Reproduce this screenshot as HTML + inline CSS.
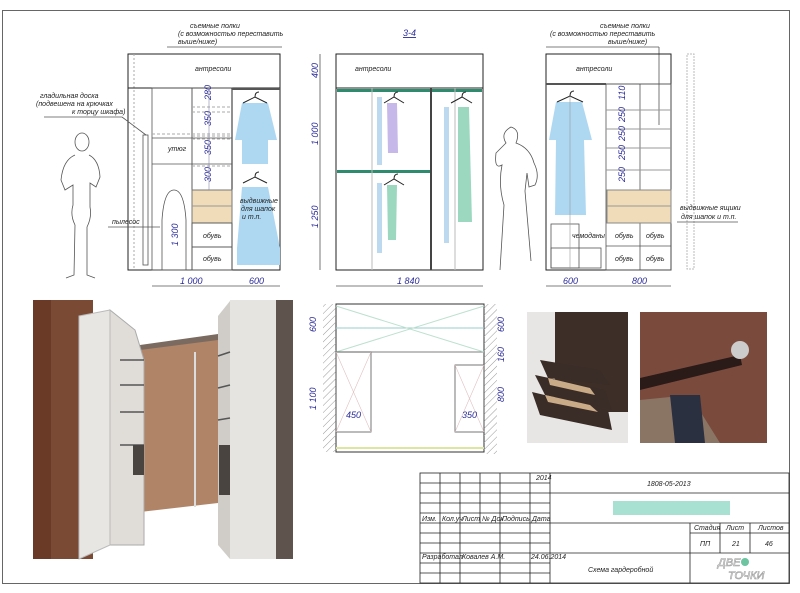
<!DOCTYPE html>
<html><head><meta charset="utf-8"><style>
body{margin:0;background:#fff}
svg{display:block;font-family:"Liberation Sans","DejaVu Sans",sans-serif;font-style:italic}
.t{font-size:7px;fill:#222}
.d{font-size:9px;fill:#2b2b9a}
.l{stroke:#555;stroke-width:.8;fill:none}
.k{stroke:#222;stroke-width:1;fill:none}
</style></head><body>
<svg width="800" height="593" viewBox="0 0 800 593">
<defs><pattern id="h" width="5" height="5" patternUnits="userSpaceOnUse" patternTransform="rotate(45)"><line x1="0" y1="0" x2="0" y2="5" stroke="#999"/></pattern></defs>
<rect x="2.5" y="10.5" width="787" height="573" fill="#fff" stroke="#666" stroke-width="1"/>

<!-- LEFT ELEVATION -->
<text x="190" y="28" class="t">съемные полки</text>
<text x="178" y="36" class="t">(с возможностью переставить</text>
<text x="178" y="44" class="t">выше/ниже)</text>
<line x1="167" y1="47" x2="282" y2="47" class="l"/>
<rect x="128" y="54" width="152" height="216" class="k"/>
<line x1="134" y1="54" x2="134" y2="270" stroke="#aaa" stroke-dasharray="2 2"/>
<line x1="128" y1="88" x2="280" y2="88" class="k"/>
<text x="195" y="71" class="t">антресоли</text>
<rect x="152" y="88" width="40" height="182" class="l"/>
<rect x="192" y="88" width="40" height="182" class="l"/>
<line x1="232" y1="88" x2="232" y2="270" class="k"/>
<line x1="232" y1="89" x2="280" y2="89" stroke="#555" stroke-width="2"/>
<g stroke="#aaa" stroke-dasharray="3 2"><line x1="192" y1="107" x2="232" y2="107"/><line x1="192" y1="112" x2="232" y2="112"/><line x1="192" y1="136" x2="232" y2="136"/><line x1="192" y1="139" x2="232" y2="139"/><line x1="152" y1="134" x2="232" y2="134"/><line x1="192" y1="166" x2="232" y2="166"/></g>
<line x1="152" y1="138" x2="232" y2="138" class="l"/><line x1="152" y1="164" x2="232" y2="164" class="l"/>
<line x1="192" y1="190" x2="232" y2="190" class="l"/>
<text x="168" y="151" class="t">утюг</text>
<rect x="192" y="190" width="40" height="33" fill="#f0dcb8" stroke="#777"/>
<line x1="192" y1="206" x2="232" y2="206" stroke="#999"/>
<rect x="192" y="223" width="40" height="24" class="l"/><rect x="192" y="247" width="40" height="23" class="l"/>
<text x="203" y="238" class="t">обувь</text><text x="203" y="261" class="t">обувь</text>
<g class="d" font-size="5.5"><text transform="translate(211,100) rotate(-90)">280</text><text transform="translate(211,126) rotate(-90)">350</text><text transform="translate(211,155) rotate(-90)">350</text><text transform="translate(211,182) rotate(-90)">300</text></g>
<line x1="209" y1="92" x2="209" y2="190" stroke="#88a" stroke-width=".6"/>
<path d="M242 103 L268 103 L277 140 L268 140 L268 164 L242 164 L242 140 L235 140 Z" fill="#aed8f2"/>
<path d="M242 187 L268 187 L280 248 L280 265 L237 265 L237 248 Z" fill="#aed8f2"/>
<path d="M243 103 L255 97 L267 103 M255 97 q0 -5 4 -5" stroke="#222" fill="none"/>
<path d="M243 183 L255 177 L267 183 M255 177 q0 -5 4 -5" stroke="#222" fill="none"/>
<text x="240" y="203" class="t">выдвижные</text><text x="241" y="211" class="t">для шапок</text><text x="242" y="219" class="t">и т.п.</text>
<path d="M174 190 q-10 0 -12 30 l0 50 l24 0 l0 -50 q-2 -30 -12 -30z" class="l"/>
<text class="d" transform="translate(178,246) rotate(-90)">1 300</text>
<rect x="143" y="135" width="5" height="130" class="l"/>
<text x="40" y="98" class="t">гладильная доска</text>
<text x="36" y="106" class="t">(подвешена на крючках</text>
<text x="72" y="114" class="t">к торцу шкафа)</text>
<line x1="44" y1="117" x2="122" y2="117" class="l"/><line x1="122" y1="117" x2="146" y2="135" class="l"/>
<text x="112" y="224" class="t">пылесос</text><line x1="108" y1="227" x2="160" y2="227" class="l"/>
<line x1="152" y1="286" x2="280" y2="286" class="l"/>
<text x="180" y="284" class="d">1 000</text><text x="249" y="284" class="d">600</text>
<g class="l" stroke="#333" stroke-width=".7">
<ellipse cx="82" cy="142" rx="7" ry="9"/><path d="M75 155 q-12 5 -14 25 l4 10 l8 -5 l0 20 q-3 10 2 20 l-1 50 l-8 3 M89 155 q10 5 11 22 l-4 10 l-6 -4 l0 24 q2 10 -3 20 l0 48 l8 3"/>
</g>

<!-- MIDDLE ELEVATION -->
<text x="403" y="36" class="d" font-size="8" text-decoration="underline">3-4</text>
<rect x="336" y="54" width="147" height="216" class="k"/>
<line x1="336" y1="88" x2="483" y2="88" class="k"/>
<text x="355" y="71" class="t">антресоли</text>
<rect x="337" y="89" width="145" height="3" fill="#2e8b6e"/>
<rect x="337" y="170" width="94" height="3" fill="#2e8b6e"/>
<line x1="431" y1="88" x2="431" y2="270" stroke="#444" stroke-width="2"/>
<line x1="372" y1="88" x2="372" y2="270" stroke="#bbb"/>
<line x1="455" y1="88" x2="455" y2="270" stroke="#bbb"/>
<rect x="377" y="97" width="5" height="68" fill="#bcd9f0"/>
<path d="M387 103 L397 103 L398 153 L388 153Z" fill="#c6b8e8"/>
<rect x="377" y="183" width="5" height="70" fill="#bcd9f0"/>
<path d="M387 185 L397 185 L396 240 L388 240Z" fill="#9cd8c0"/>
<rect x="444" y="107" width="5" height="136" fill="#bcd9f0"/>
<path d="M458 107 L469 107 L472 222 L458 222Z" fill="#9cd8c0"/>
<g stroke="#222" fill="none"><path d="M384 103 L394 97 L404 103 M394 97 q0-5 4-5"/><path d="M384 185 L394 179 L404 185 M394 179 q0-5 4-5"/><path d="M451 103 L462 97 L472 103 M462 97 q0-5 4-5"/></g>
<line x1="320" y1="54" x2="320" y2="270" class="l"/>
<text class="d" transform="translate(318,78) rotate(-90)">400</text>
<text class="d" transform="translate(318,145) rotate(-90)">1 000</text>
<text class="d" transform="translate(318,228) rotate(-90)">1 250</text>
<line x1="336" y1="286" x2="483" y2="286" class="l"/>
<text x="397" y="284" class="d">1 840</text>
<path d="M500 270 l4 -65 q-6 -20 -2 -40 q-8 5 -6 -12 l10 -10 q-6 -10 5 -16 q10 3 5 16 q14 5 18 20 q6 12 1 22 l-6 2 l-2 -14 l-2 18 l6 70" class="l" stroke="#444"/>

<!-- RIGHT ELEVATION -->
<text x="600" y="28" class="t">съемные полки</text>
<text x="550" y="36" class="t">(с возможностью переставить</text>
<text x="608" y="44" class="t">выше/ниже)</text>
<line x1="546" y1="47" x2="659" y2="47" class="l"/><line x1="659" y1="47" x2="659" y2="125" class="l"/>
<rect x="546" y="54" width="125" height="216" class="k"/>
<line x1="546" y1="84" x2="606" y2="84" stroke="#555" stroke-width="2"/>
<line x1="606" y1="84" x2="671" y2="84" class="l"/>
<text x="576" y="71" class="t">антресоли</text>
<rect x="687" y="54" width="7" height="215" fill="none" stroke="#bbb" stroke-dasharray="2 1"/>
<rect x="606" y="84" width="65" height="186" class="l"/>
<line x1="640" y1="84" x2="640" y2="270" class="l"/>
<g stroke="#999"><line x1="606" y1="110" x2="671" y2="110"/><line x1="606" y1="129" x2="671" y2="129"/><line x1="606" y1="148" x2="671" y2="148"/><line x1="606" y1="170" x2="671" y2="170"/></g>
<rect x="607" y="190" width="64" height="33" fill="#f0dcb8" stroke="#888"/>
<line x1="607" y1="206" x2="671" y2="206" stroke="#999"/>
<line x1="606" y1="246" x2="671" y2="246" class="l"/>
<text x="615" y="238" class="t">обувь</text><text x="646" y="238" class="t">обувь</text>
<text x="615" y="261" class="t">обувь</text><text x="646" y="261" class="t">обувь</text>
<text x="572" y="238" class="t">чемоданы</text>
<rect x="551" y="224" width="28" height="44" class="l" stroke="#9cc"/><rect x="551" y="248" width="50" height="20" class="l" stroke="#9cc"/>
<path d="M556 102 L582 102 L592 140 L584 140 L586 215 L555 215 L556 140 L549 140Z" fill="#aed8f2"/>
<path d="M557 102 L570 96 L583 102 M570 96 q0-5 4-5" stroke="#222" fill="none"/>
<line x1="570" y1="96" x2="570" y2="270" stroke="#999" stroke-width=".6"/>
<g class="d" font-size="5.5"><text transform="translate(625,100) rotate(-90)">110</text><text transform="translate(625,122) rotate(-90)">250</text><text transform="translate(625,141) rotate(-90)">250</text><text transform="translate(625,160) rotate(-90)">250</text><text transform="translate(625,182) rotate(-90)">250</text></g>
<text x="680" y="210" class="t">выдвижные ящики</text><text x="681" y="219" class="t">для шапок и т.п.</text>
<line x1="677" y1="222" x2="738" y2="222" class="l"/>
<line x1="546" y1="286" x2="671" y2="286" class="l"/>
<text x="563" y="284" class="d">600</text><text x="632" y="284" class="d">800</text>

<!-- 3D RENDER -->
<rect x="33" y="300" width="260" height="259" fill="#fff"/>
<rect x="33" y="300" width="60" height="259" fill="#7b4a35"/>
<rect x="33" y="300" width="18" height="259" fill="#6b3a26"/>
<path d="M140 346 L218 336 L218 503 L140 512Z" fill="#b08467"/>
<path d="M140 345 L218 334 L218 340 L140 350Z" fill="#7a6a60"/>
<line x1="195" y1="352" x2="195" y2="507" stroke="#ddd" stroke-width="2"/>
<path d="M110 310 L135 330 L144 360 L144 545 L110 545Z" fill="#e0ddd8" stroke="#aaa"/>
<path d="M79 316 L110 310 L110 545 L79 559Z" fill="#e8e6e2" stroke="#bbb"/>
<path d="M218 316 L230 301 L230 559 L218 545Z" fill="#d0cdc8"/>
<rect x="230" y="300" width="46" height="259" fill="#e6e4e0"/>
<rect x="276" y="300" width="17" height="259" fill="#5f544d"/>
<g stroke="#555" stroke-width="1.5"><line x1="120" y1="360" x2="144" y2="360"/><line x1="120" y1="385" x2="144" y2="385"/><line x1="120" y1="412" x2="144" y2="412"/><line x1="120" y1="445" x2="144" y2="445"/><line x1="218" y1="356" x2="230" y2="352"/><line x1="218" y1="388" x2="230" y2="385"/><line x1="218" y1="420" x2="230" y2="418"/></g>
<rect x="133" y="445" width="11" height="30" fill="#4a4440"/>
<rect x="219" y="445" width="11" height="50" fill="#4a4440"/>

<!-- PLAN -->
<rect x="336" y="304" width="148" height="148" fill="#fff" stroke="#333"/>
<rect x="323" y="304" width="13" height="148" fill="url(#h)"/>
<rect x="484" y="304" width="13" height="150" fill="url(#h)"/>
<line x1="336" y1="352" x2="484" y2="352" class="l"/>
<line x1="336" y1="328" x2="484" y2="328" stroke="#9cc"/>
<path d="M336 306 L484 352 M484 306 L336 352" stroke="#bde0d0"/>
<rect x="336" y="352" width="35" height="80" class="l"/>
<rect x="455" y="365" width="29" height="67" class="l"/>
<path d="M336 352 L371 432 M371 352 L336 432 M455 365 L484 432 M484 365 L455 432" stroke="#e0c0c0" stroke-width=".6"/>
<text x="346" y="418" class="d">450</text><text x="462" y="418" class="d">350</text>
<line x1="336" y1="448" x2="484" y2="448" stroke="#dde6a0" stroke-width="2"/>
<text class="d" transform="translate(316,332) rotate(-90)">600</text>
<text class="d" transform="translate(316,410) rotate(-90)">1 100</text>
<text class="d" transform="translate(504,332) rotate(-90)">600</text>
<text class="d" transform="translate(504,362) rotate(-90)">160</text>
<text class="d" transform="translate(504,402) rotate(-90)">800</text>

<!-- PHOTOS -->
<rect x="527" y="312" width="101" height="131" fill="#e8e6e4"/>
<rect x="555" y="312" width="73" height="100" fill="#3d2e28"/>
<path d="M540 360 L600 370 L610 385 L548 378Z M535 375 L605 390 L612 410 L545 395Z M532 392 L608 410 L612 430 L540 415Z" fill="#3a2c26"/>
<path d="M548 378 L590 388 L595 395 L550 385Z M545 395 L590 405 L598 412 L548 402Z" fill="#c9ab88"/>
<rect x="640" y="312" width="127" height="131" fill="#7a4a3c"/>
<path d="M640 378 L740 355 L742 365 L640 390Z" fill="#2a1a18"/>
<circle cx="740" cy="350" r="9" fill="#ccc"/>
<path d="M640 400 L690 395 L720 443 L640 443Z" fill="#8a7565"/>
<path d="M670 395 L700 395 L705 443 L675 443Z" fill="#2a3040"/>

<!-- TITLE BLOCK -->
<g stroke="#222" stroke-width=".8" fill="none">
<rect x="420" y="473" width="369" height="110"/>
<line x1="440" y1="473" x2="440" y2="583"/><line x1="460" y1="473" x2="460" y2="583"/><line x1="480" y1="473" x2="480" y2="523"/><line x1="500" y1="473" x2="500" y2="583"/><line x1="530" y1="473" x2="530" y2="583"/><line x1="550" y1="473" x2="550" y2="583"/>
<line x1="420" y1="483" x2="550" y2="483"/><line x1="420" y1="493" x2="550" y2="493"/><line x1="420" y1="503" x2="550" y2="503"/><line x1="420" y1="513" x2="550" y2="513"/>
<line x1="420" y1="523" x2="789" y2="523"/><line x1="420" y1="533" x2="550" y2="533"/><line x1="420" y1="543" x2="550" y2="543"/><line x1="420" y1="553" x2="789" y2="553"/><line x1="420" y1="563" x2="550" y2="563"/><line x1="420" y1="573" x2="550" y2="573"/>
<line x1="550" y1="493" x2="789" y2="493"/>
<line x1="690" y1="523" x2="690" y2="583"/><line x1="720" y1="523" x2="720" y2="553"/><line x1="750" y1="523" x2="750" y2="553"/>
<line x1="690" y1="533" x2="789" y2="533"/>
</g>
<rect x="613" y="501" width="117" height="14" fill="#a8e0d2"/>
<g class="t" font-size="4.5"><text x="536" y="480">2014</text><text x="422" y="521">Изм.</text><text x="442" y="521">Кол.уч</text><text x="462" y="521">Лист</text><text x="482" y="521">№ Док.</text><text x="502" y="521">Подпись</text><text x="532" y="521">Дата</text><text x="422" y="559">Разработал</text><text x="462" y="559">Ковалев А.М.</text><text x="531" y="559">24.06.2014</text><text x="694" y="530">Стадия</text><text x="726" y="530">Лист</text><text x="758" y="530">Листов</text></g>
<text x="647" y="486" class="t">1808-05-2013</text>
<text x="700" y="546" class="t">ПП</text><text x="732" y="546" class="t">21</text><text x="765" y="546" class="t">46</text>
<text x="588" y="572" class="t">Схема гардеробной</text>
<text x="718" y="566" font-size="11" fill="#fff" stroke="#999" stroke-width=".6">ДВЕ</text>
<circle cx="745" cy="562" r="4" fill="#6cc4a0"/>
<text x="728" y="579" font-size="11" fill="#fff" stroke="#999" stroke-width=".6">ТОЧКИ</text>
</svg>
</body></html>
